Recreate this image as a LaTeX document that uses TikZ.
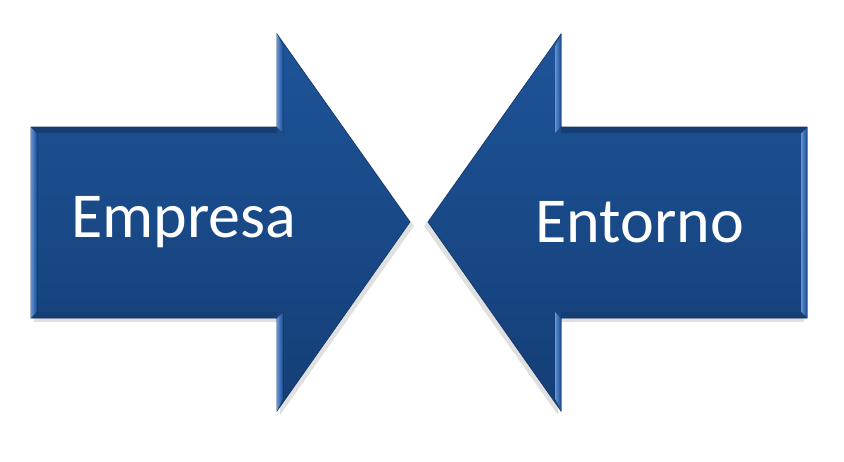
\documentclass[tikz,border=0pt]{standalone}
\usepackage{fontspec}
\setmainfont{Carlito}
\definecolor{arrowmain}{RGB}{24,74,138}
\definecolor{arrowtop}{RGB}{30,84,152}
\definecolor{arrowbot}{RGB}{20,62,118}
\definecolor{bevlight}{RGB}{96,146,216}
\definecolor{bevdark}{RGB}{18,52,100}
\tikzset{
  arrowbody/.style={top color=arrowtop, bottom color=arrowbot, draw=bevdark, line width=0.6pt, line join=miter},
  shadowfill/.style={fill=black!35, opacity=0.35},
  lightbevel/.style={left color=bevlight, right color=arrowmain},
  darkbevel/.style={fill=bevdark, opacity=0.6},
  label/.style={text=white, font=\fontsize{64}{70}\selectfont, inner sep=0pt}
}
\newcommand\bluearrowshape{
  \fill[shadowfill] (34,131) -- (280,131) -- (280,38) -- (414,226) -- (280,415) -- (280,322) -- (34,322) -- cycle;
  \path[arrowbody] (31,127) -- (277,127) -- (277,34) -- (410,222) -- (277,411) -- (277,318) -- (31,318) -- cycle;
  \fill[lightbevel] (31,127) -- (37,133) -- (37,312) -- (31,318) -- cycle;
  \fill[darkbevel] (31,127) -- (277,127) -- (277,133) -- (37,133) -- cycle;
  \fill[bevdark, opacity=0.35] (37,312) -- (277,312) -- (277,318) -- (31,318) -- cycle;
  \fill[lightbevel] (277,34) -- (283,46) -- (283,133) -- (277,127) -- cycle;
  \fill[lightbevel] (277,318) -- (283,312) -- (283,399) -- (277,411) -- cycle;
}
\begin{document}
\begin{tikzpicture}[x=1pt, y=-1pt]
  \useasboundingbox (0,0) rectangle (844,461);
  \bluearrowshape
  \begin{scope}[xshift=838pt, xscale=-1]
    \bluearrowshape
  \end{scope}
  \node[label] (empresa) at (184,222) {Empresa};
  \node[label] (entorno) at (640,222) {Entorno};
\end{tikzpicture}
\end{document}
